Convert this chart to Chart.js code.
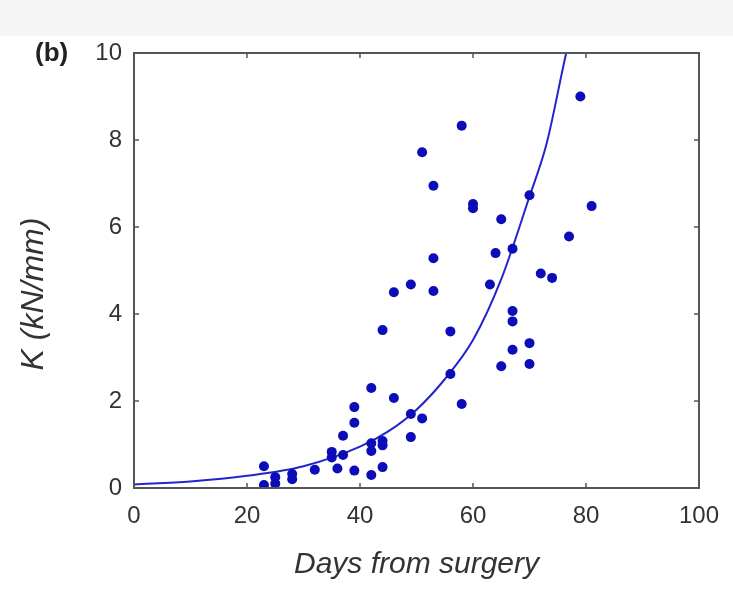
<!DOCTYPE html>
<html>
<head>
<meta charset="utf-8">
<script src="https://cdn.jsdelivr.net/npm/chart.js@4"></script>
<style>
  html, body { margin: 0; padding: 0; }
  body { width: 733px; height: 589px; background: linear-gradient(#f5f5f5 0 36px, #ffffff 36px); }
  canvas { display: block; }
</style>
</head>
<body>
<canvas id="stiffChart" width="733" height="589"></canvas>
<script>
// Mediciones: dias desde la cirugia y rigidez K (kN/mm)
const dias = [23, 23, 25, 25, 28, 28, 32, 35, 35, 36, 37, 37, 39, 39, 39, 42, 42, 42, 42, 44, 44, 44, 44, 46, 46, 49, 49, 49, 51, 51, 53, 53, 53, 56, 56, 58, 58, 60, 60, 63, 64, 65, 65, 67, 67, 67, 67, 70, 70, 70, 72, 74, 77, 79, 81];
const rigidez = [0.5, 0.07, 0.25, 0.1, 0.32, 0.2, 0.42, 0.83, 0.7, 0.45, 1.2, 0.76, 1.86, 1.5, 0.4, 2.3, 1.03, 0.85, 0.3, 1.08, 0.98, 0.48, 3.63, 2.07, 4.5, 1.7, 1.17, 4.68, 1.6, 7.72, 6.95, 5.28, 4.53, 3.6, 2.62, 8.33, 1.93, 6.53, 6.43, 4.68, 5.4, 2.8, 6.18, 5.5, 4.07, 3.83, 3.18, 6.73, 3.33, 2.85, 4.93, 4.83, 5.78, 9.0, 6.48];

// Curva de ajuste
const diasAjuste = [0, 10, 20, 30, 40, 45, 50, 55, 60, 65, 70, 73, 76.5, 78];
const rigidezAjuste = [0.08, 0.15, 0.28, 0.5, 0.95, 1.3, 1.8, 2.5, 3.4, 4.8, 6.7, 7.9, 10, 10.8];

// Ticks
const ticksX = [0, 20, 40, 60, 80, 100];
const ticksY = [0, 2, 4, 6, 8, 10];

const azul = '#0c0cb8';
const gris = '#333333';
const fuente = '"Liberation Sans", Arial, sans-serif';

// marco completo con marcas hacia adentro, etiqueta (b) y titulo del eje y
const marco = {
    id: 'marco',
    afterDraw(chart) {
        const ctx = chart.ctx;
        const a = chart.chartArea;
        const sx = chart.scales.x, sy = chart.scales.y;
        ctx.save();
        ctx.strokeStyle = '#555555';
        ctx.lineWidth = 2;
        ctx.strokeRect(a.left, a.top, a.right - a.left, a.bottom - a.top);
        ctx.lineWidth = 1.5;
        ctx.beginPath();
        ticksX.forEach(v => {
            const px = sx.getPixelForValue(v);
            ctx.moveTo(px, a.bottom); ctx.lineTo(px, a.bottom - 5);
            ctx.moveTo(px, a.top); ctx.lineTo(px, a.top + 5);
        });
        ticksY.forEach(v => {
            const py = sy.getPixelForValue(v);
            ctx.moveTo(a.left, py); ctx.lineTo(a.left + 5, py);
            ctx.moveTo(a.right, py); ctx.lineTo(a.right - 5, py);
        });
        ctx.stroke();

        ctx.fillStyle = '#222222';
        ctx.font = 'bold 26px ' + fuente;
        ctx.textBaseline = 'middle';
        ctx.textAlign = 'left';
        ctx.fillText('(b)', 35, 54);

        ctx.fillStyle = gris;
        ctx.font = 'italic 32px ' + fuente;
        ctx.textAlign = 'center';
        ctx.translate(34, 294);
        ctx.rotate(-Math.PI / 2);
        ctx.fillText('K (kN/mm)', 0, 0);
        ctx.restore();
    }
};

new Chart(document.getElementById('stiffChart'), {
    type: 'scatter',
    data: {
        datasets: [
            {
                label: 'Ajuste',
                type: 'line',
                data: diasAjuste.map((d, i) => ({ x: d, y: rigidezAjuste[i] })),
                borderColor: '#2424cc',
                borderWidth: 2,
                pointRadius: 0,
                cubicInterpolationMode: 'monotone',
                fill: false,
                order: 2
            },
            {
                label: 'K',
                data: dias.map((d, i) => ({ x: d, y: rigidez[i] })),
                backgroundColor: azul,
                borderColor: azul,
                pointRadius: 5,
                pointBorderWidth: 0,
                order: 1
            }
        ]
    },
    options: {
        responsive: false,
        animation: false,
        layout: { padding: { left: 0, top: 53, right: 34, bottom: 0 } },
        plugins: {
            legend: { display: false },
            tooltip: { enabled: false }
        },
        scales: {
            x: {
                type: 'linear',
                min: 0,
                max: 100,
                afterFit(scale) { scale.height = 101; },
                afterBuildTicks(scale) { scale.ticks = ticksX.map(v => ({ value: v })); },
                grid: { display: false, drawTicks: false },
                border: { display: false },
                ticks: {
                    padding: 14,
                    color: gris,
                    font: { family: fuente, size: 24 }
                },
                title: {
                    display: true,
                    text: 'Days from surgery',
                    color: gris,
                    padding: { top: 0, bottom: 6 },
                    font: { family: fuente, size: 30, style: 'italic' }
                }
            },
            y: {
                type: 'linear',
                min: 0,
                max: 10,
                afterFit(scale) { scale.width = 134; },
                afterBuildTicks(scale) { scale.ticks = ticksY.map(v => ({ value: v })); },
                grid: { display: false, drawTicks: false },
                border: { display: false },
                ticks: {
                    padding: 12,
                    color: gris,
                    font: { family: fuente, size: 24 }
                },
                title: { display: false }
            }
        }
    },
    plugins: [marco]
});
</script>
</body>
</html>
